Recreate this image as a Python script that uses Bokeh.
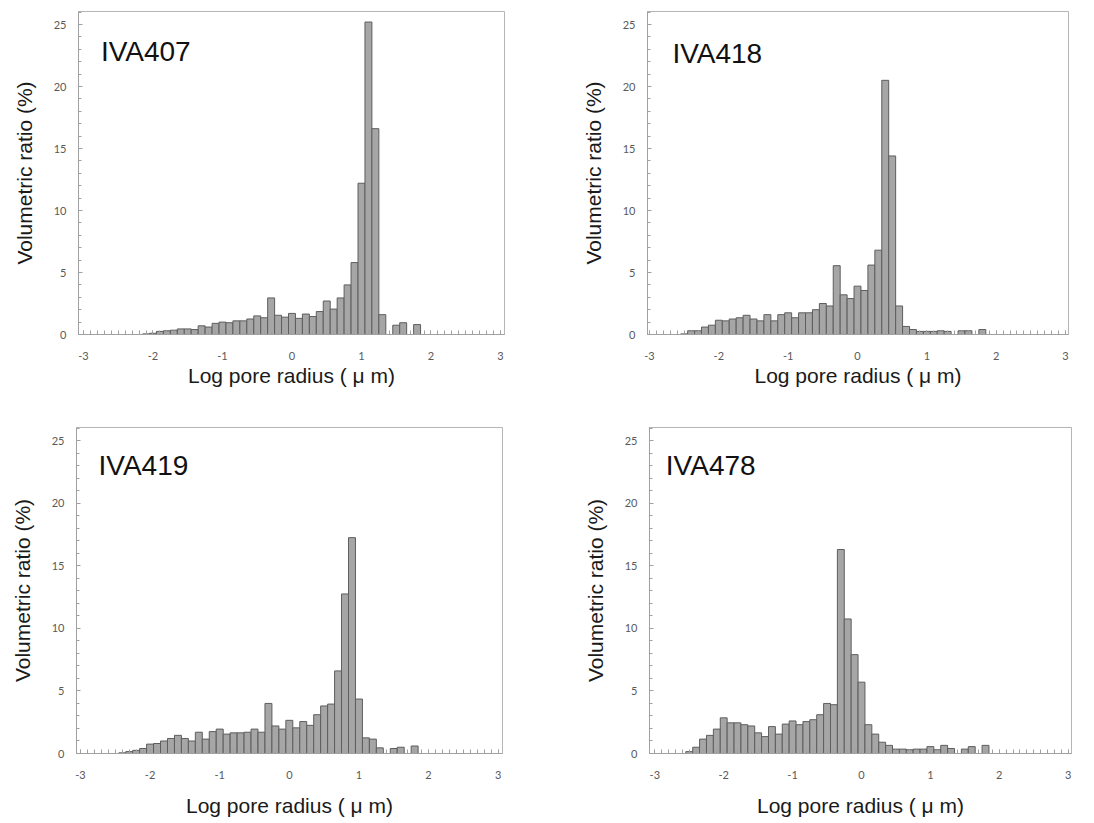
from bokeh.plotting import figure
from bokeh.layouts import row, column
from bokeh.models import SingleIntervalTicker, Label, Range1d, ColumnDataSource
from bokeh.embed import file_html
from bokeh.resources import INLINE

# bin centres of log pore radius (um), 0.1 wide bins from -2.5 to 1.8
bins = [round(-2.5 + 0.1 * i, 1) for i in range(44)]

iva407 = [0, 0, 0, 0, 0.05, 0.1, 0.25, 0.3, 0.35, 0.45, 0.45, 0.4, 0.7, 0.6, 0.9, 1.0,
          0.95, 1.1, 1.1, 1.25, 1.5, 1.35, 2.95, 1.55, 1.4, 1.7, 1.3, 1.65, 1.45, 1.85,
          2.7, 2.05, 2.95, 4.0, 5.8, 12.2, 25.2, 16.6, 1.6, 0, 0.75, 0.95, 0, 0.8]
iva418 = [0.05, 0.3, 0.3, 0.6, 0.75, 1.15, 1.1, 1.25, 1.35, 1.55, 1.25, 1.1, 1.6, 1.1,
          1.6, 1.75, 1.35, 1.75, 1.75, 2.0, 2.5, 2.3, 5.55, 3.2, 2.9, 3.9, 3.55, 5.6, 6.8,
          20.5, 14.4, 2.3, 0.65, 0.4, 0.25, 0.25, 0.25, 0.3, 0.25, 0, 0.3, 0.3, 0, 0.4]
iva419 = [0, 0.05, 0.15, 0.25, 0.4, 0.75, 0.8, 1.0, 1.2, 1.45, 1.2, 1.0, 1.7, 1.15, 1.75,
          1.95, 1.55, 1.65, 1.65, 1.7, 1.95, 1.7, 4.0, 2.2, 1.95, 2.65, 2.05, 2.55, 2.25,
          3.1, 3.8, 3.95, 6.6, 12.75, 17.25, 4.35, 1.25, 1.15, 0.45, 0, 0.4, 0.5, 0, 0.6]
iva478 = [0.15, 0.5, 1.15, 1.45, 1.95, 2.85, 2.45, 2.45, 2.3, 2.2, 1.65, 1.35, 2.15, 1.55,
          2.35, 2.6, 2.3, 2.55, 2.7, 3.1, 4.0, 3.9, 16.3, 10.75, 7.9, 5.7, 2.3, 1.55, 0.9,
          0.65, 0.35, 0.35, 0.3, 0.35, 0.35, 0.55, 0.3, 0.65, 0.4, 0, 0.35, 0.55, 0, 0.65]

titles = ["IVA407", "IVA418", "IVA419", "IVA478"]
series = [iva407, iva418, iva419, iva478]
x_ticks = [-3, -2, -1, 0, 1, 2, 3]
x_tick_labels = ["-3", "-2", "-1", "0", "1", "2", "3"]
y_ticks = [0, 5, 10, 15, 20, 25]
x_label = "Log pore radius ( \u03bc m)"
y_label = "Volumetric ratio (%)"

# layout per panel: width, height, borders (l, r, t, b), x range, title pos, xlabel standoff
specs = [
    dict(w=547, h=418, l=78, r=43, t=11, b=83, xs=-3.072, xe=3.058, tx=-2.75, ty=22.8, xls=1),
    dict(w=545, h=418, l=100, r=24, t=8, b=84, xs=-3.029, xe=3.043, tx=-2.67, ty=22.7, xls=1),
    dict(w=547, h=403, l=76, r=45, t=9, b=68, xs=-3.057, xe=3.062, tx=-2.74, ty=23.0, xls=12),
    dict(w=545, h=403, l=102, r=21, t=7, b=68, xs=-3.077, xe=3.048, tx=-2.84, ty=23.0, xls=12),
]

BAR_FILL = "#a6a6a6"
BAR_LINE = "#5e5e5e"
AX = "#a0a0a0"
TICK_TXT = "#595959"

figs = []
for name, vals, s in zip(titles, series, specs):
    xs = [b for b, v in zip(bins, vals) if v > 0]
    ys = [v for v in vals if v > 0]
    src = ColumnDataSource(dict(x=xs, top=ys))
    p = figure(width=s["w"], height=s["h"], x_range=Range1d(s["xs"], s["xe"]),
               y_range=Range1d(0, 26.05), output_backend="svg", toolbar_location=None,
               min_border_left=s["l"], min_border_right=s["r"],
               min_border_top=s["t"], min_border_bottom=s["b"])
    p.xgrid.visible = False
    p.ygrid.visible = False
    p.outline_line_color = "#b5b5b5"
    p.outline_line_width = 1
    p.background_fill_color = "white"
    p.border_fill_color = "white"

    p.vbar(x="x", top="top", width=0.1, source=src, fill_color=BAR_FILL,
           line_color=BAR_LINE, line_width=1)

    xa = p.xaxis[0]
    xa.ticker = SingleIntervalTicker(interval=1, num_minor_ticks=10)
    xa.major_label_overrides = {t: l for t, l in zip(x_ticks, x_tick_labels)}
    xa.major_tick_in = 4
    xa.major_tick_out = 0
    xa.minor_tick_in = 4
    xa.minor_tick_out = 0
    xa.major_tick_line_color = AX
    xa.minor_tick_line_color = AX
    xa.axis_line_color = AX
    xa.major_label_text_font = "Lato"
    xa.major_label_text_font_size = "11px"
    xa.major_label_text_color = TICK_TXT
    xa.major_label_standoff = 17
    xa.axis_label = x_label
    xa.axis_label_text_font = "Liberation Sans"
    xa.axis_label_text_font_style = "normal"
    xa.axis_label_text_font_size = "21px"
    xa.axis_label_text_color = "#1a1a1a"
    xa.axis_label_standoff = s["xls"]

    ya = p.yaxis[0]
    ya.ticker = SingleIntervalTicker(interval=5, num_minor_ticks=5)
    ya.major_tick_in = 4
    ya.major_tick_out = 0
    ya.minor_tick_in = 3
    ya.minor_tick_out = 0
    ya.major_tick_line_color = AX
    ya.minor_tick_line_color = AX
    ya.axis_line_color = AX
    ya.major_label_text_font = "Lato"
    ya.major_label_text_font_size = "11px"
    ya.major_label_text_color = TICK_TXT
    ya.major_label_standoff = 12
    ya.axis_label = y_label
    ya.axis_label_text_font = "Liberation Sans"
    ya.axis_label_text_font_style = "normal"
    ya.axis_label_text_font_size = "21px"
    ya.axis_label_text_color = "#1a1a1a"
    ya.axis_label_standoff = 15

    p.add_layout(Label(x=s["tx"], y=s["ty"], text=name, text_font="Liberation Sans",
                       text_font_size="28px", text_color="#111111",
                       text_baseline="alphabetic", text_align="left"))
    figs.append(p)

layout = column(row(figs[0], figs[1]), row(figs[2], figs[3]))
open("out.html", "w").write(file_html(layout, INLINE))
